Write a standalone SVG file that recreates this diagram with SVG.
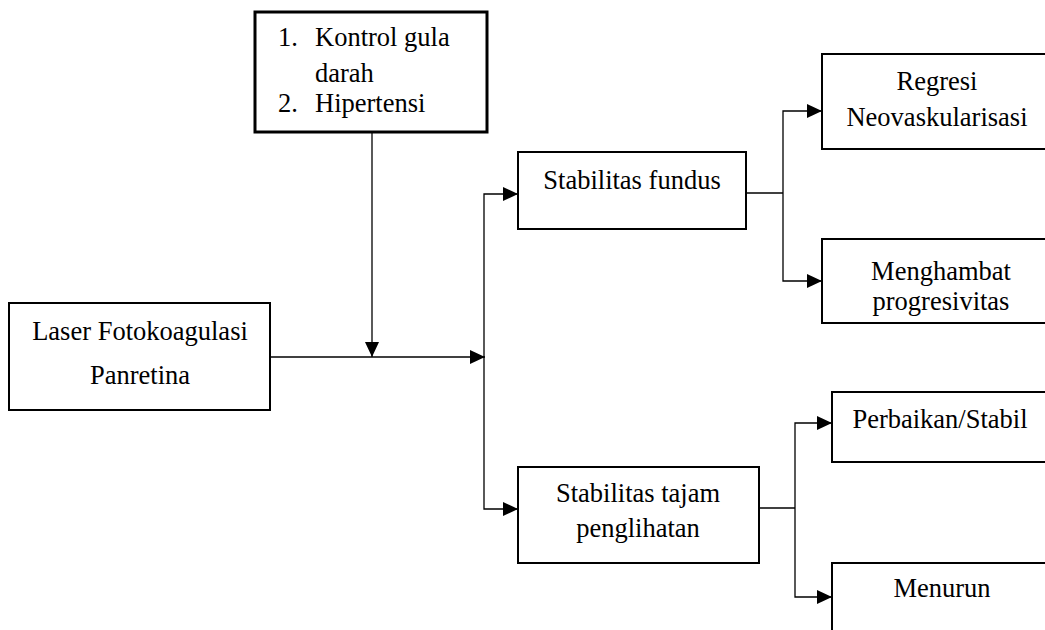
<svg xmlns="http://www.w3.org/2000/svg" width="1045" height="630" viewBox="0 0 1045 630">
<style>
.box{fill:#fff;stroke:#000;stroke-width:2}
.thick{stroke-width:3}
.t{font-family:"Liberation Serif","Times New Roman",serif;font-size:26.5px;fill:#000}
.c{text-anchor:middle}
.ln{fill:none;stroke:#000;stroke-width:1.3}
</style>
<defs>
<marker id="ah" markerUnits="userSpaceOnUse" markerWidth="16" markerHeight="14" refX="15" refY="7" orient="auto">
<path d="M0,0 L15,7 L0,14 Z" fill="#000"/>
</marker>
</defs>
<rect width="1045" height="630" fill="#fff"/>
<g id="connectors">
<path class="ln" d="M372,132 V357" marker-end="url(#ah)"/>
<path class="ln" d="M270,357 H485" marker-end="url(#ah)"/>
<path class="ln" d="M484,357 V194 H518" marker-end="url(#ah)"/>
<path class="ln" d="M484,357 V509 H518" marker-end="url(#ah)"/>
<path class="ln" d="M746,193 H783"/>
<path class="ln" d="M783,193 V111 H822" marker-end="url(#ah)"/>
<path class="ln" d="M783,193 V281 H822" marker-end="url(#ah)"/>
<path class="ln" d="M759,508 H795"/>
<path class="ln" d="M795,508 V423 H832" marker-end="url(#ah)"/>
<path class="ln" d="M795,508 V597 H832" marker-end="url(#ah)"/>
</g>
<g id="faktor">
<rect class="box thick" x="255" y="12" width="232" height="120"/>
<text class="t" x="278" y="46">1.</text><text class="t" x="315" y="46">Kontrol gula</text>
<text class="t" x="315" y="82">darah</text>
<text class="t" x="278" y="112">2.</text><text class="t" x="315" y="112">Hipertensi</text>
</g>
<g id="laser">
<rect class="box" x="9" y="303" width="261" height="107"/>
<text class="t c" x="140" y="340">Laser Fotokoagulasi</text>
<text class="t c" x="140" y="384">Panretina</text>
</g>
<g id="fundus">
<rect class="box" x="518" y="152" width="228" height="77"/>
<text class="t c" x="632" y="189">Stabilitas fundus</text>
</g>
<g id="tajam">
<rect class="box" x="518" y="467" width="241" height="96"/>
<text class="t c" x="638" y="502">Stabilitas tajam</text>
<text class="t c" x="638" y="537">penglihatan</text>
</g>
<g id="regresi">
<rect class="box" x="822" y="54" width="240" height="95"/>
<text class="t c" x="937" y="90">Regresi</text>
<text class="t c" x="937" y="126">Neovaskularisasi</text>
</g>
<g id="menghambat">
<rect class="box" x="822" y="239" width="240" height="84"/>
<text class="t c" x="941" y="280">Menghambat</text>
<text class="t c" x="941" y="310">progresivitas</text>
</g>
<g id="perbaikan">
<rect class="box" x="832" y="392" width="230" height="70"/>
<text class="t c" x="940" y="428">Perbaikan/Stabil</text>
</g>
<g id="menurun">
<rect class="box" x="832" y="563" width="230" height="90"/>
<text class="t c" x="942" y="597">Menurun</text>
</g>
</svg>
